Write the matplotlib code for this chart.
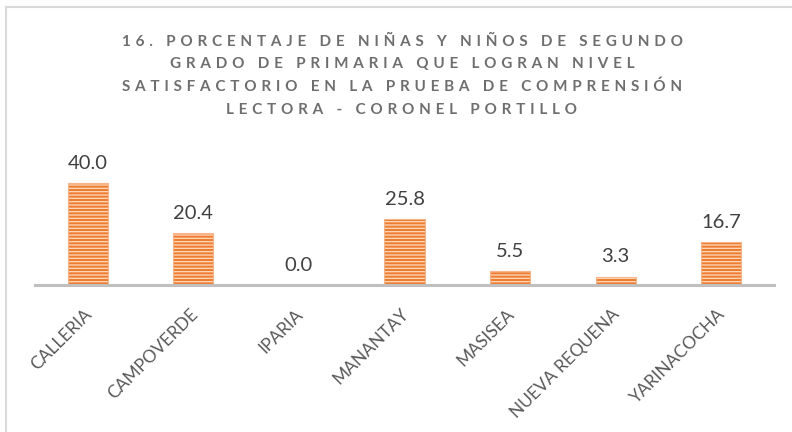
import matplotlib
matplotlib.use("Agg")
import matplotlib.pyplot as plt
from matplotlib.lines import Line2D
from matplotlib.transforms import ScaledTranslation

categories = ["CALLERIA", "CAMPOVERDE", "IPARIA", "MANANTAY", "MASISEA",
              "NUEVA REQUENA", "YARINACOCHA"]
values = [40.0, 20.4, 0.0, 25.8, 5.5, 3.3, 16.7]
title_lines = [
    "16. PORCENTAJE DE NIÑAS Y NIÑOS DE SEGUNDO",
    "GRADO DE PRIMARIA QUE LOGRAN NIVEL",
    "SATISFACTORIO EN LA PRUEBA DE COMPRENSIÓN",
    "LECTORA - CORONEL PORTILLO",
]

plt.rcParams['font.family'] = ['Lato', 'DejaVu Sans']
plt.rcParams['hatch.linewidth'] = 0.95
plt.rcParams['hatch.color'] = '#FBD6BA'

fig = plt.figure(figsize=(7.92, 4.32), dpi=100)
ax = fig.add_axes([35/792, (432-285)/432, (774-35)/792, 127.5/432])

x = list(range(len(categories)))
ax.bar(x, values, width=0.38, color='#EE7D30', hatch='-----',
       edgecolor='#FBD6BA', linewidth=0, zorder=2)
ax.bar(x, values, width=0.38, fill=False, edgecolor='#F6B48A',
       linewidth=0.8, zorder=3)

for xi, v in zip(x, values):
    ax.annotate(f"{v:.1f}", (xi, v), xytext=(0, 8), textcoords='offset points',
                ha='center', va='bottom', fontsize=14.5, color='#404040',
                annotation_clip=False)

ax.set_xlim(-0.5, len(categories) - 0.5)
ax.set_ylim(0, 50)
ax.set_yticks([])
for s in ['top', 'right', 'left']:
    ax.spines[s].set_visible(False)
ax.spines['bottom'].set_color('#BFBFBF')
ax.spines['bottom'].set_linewidth(2.2)
ax.spines['bottom'].set_zorder(4)
ax.set_xticks(x)
ax.set_xticklabels(categories, rotation=45, ha='right', rotation_mode='anchor',
                   fontsize=12.5, color='#595959')
ax.tick_params(axis='x', length=0, pad=15)
off = ScaledTranslation(-4/100, 0, fig.dpi_scale_trans)
for lbl in ax.get_xticklabels():
    lbl.set_transform(lbl.get_transform() + off)

ys = [42, 64, 87, 110]
for line, y in zip(title_lines, ys):
    s = " \u200A".join(list(line))
    fig.text(402/792, 1 - y/432, s, ha='center', va='center', fontsize=11,
             fontweight='bold', color='#6E6E6E')

# chart border (top and left visible)
fig.add_artist(Line2D([5.5/792, 5.5/792], [0, 1 - 6.5/432], color='#D9D9D9',
                      linewidth=1.5, transform=fig.transFigure))
fig.add_artist(Line2D([5.5/792, 1], [1 - 6.5/432, 1 - 6.5/432], color='#D9D9D9',
                      linewidth=1.5, transform=fig.transFigure))

fig.savefig("out.png", dpi=100)
